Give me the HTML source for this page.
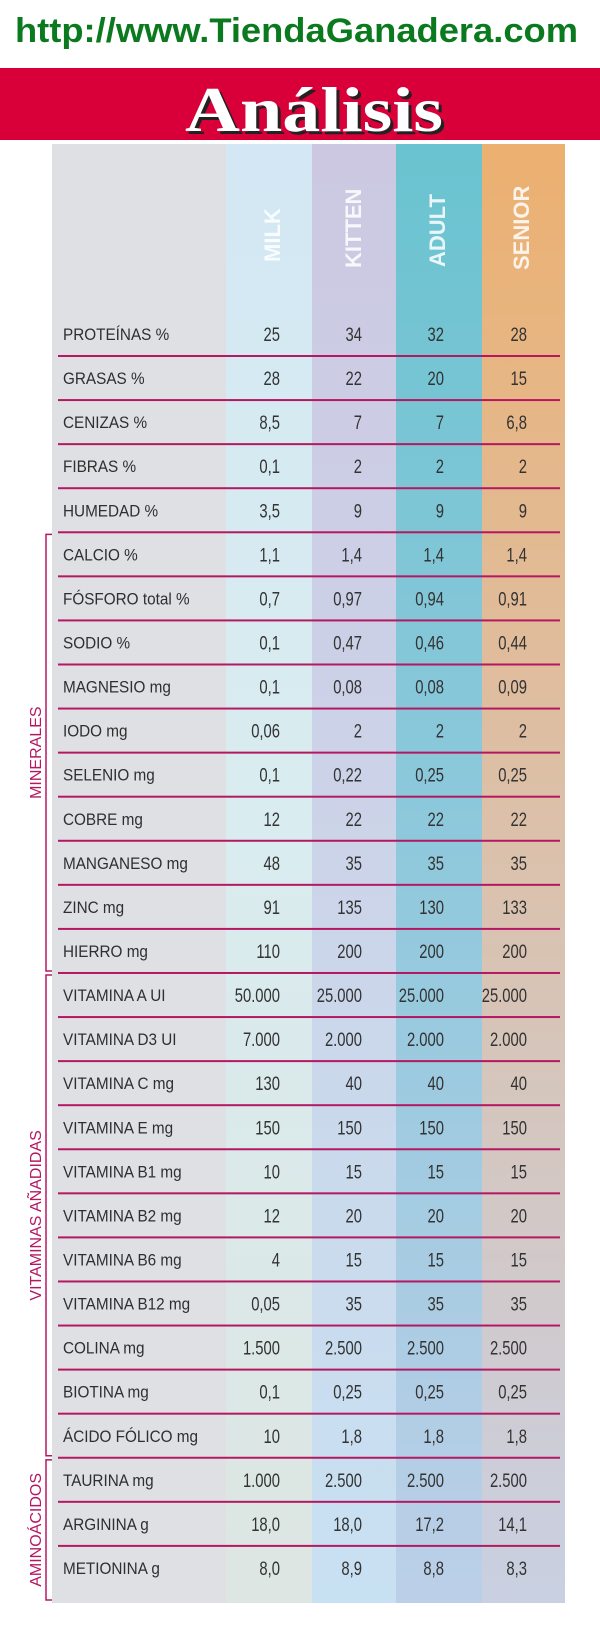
<!DOCTYPE html>
<html><head><meta charset="utf-8"><style>
html,body{margin:0;padding:0;background:#fff;width:600px;height:1632px;overflow:hidden}
svg{display:block}
</style></head><body>
<svg id="chart" width="600" height="1632" viewBox="0 0 600 1632" xmlns="http://www.w3.org/2000/svg">
<defs>
<linearGradient id="gMilk" x1="0" y1="0" x2="0" y2="1"><stop offset="0" stop-color="#d3e8f4"/><stop offset="0.45" stop-color="#d9ecf0"/><stop offset="1" stop-color="#dde6e2"/></linearGradient>
<linearGradient id="gKitten" x1="0" y1="0" x2="0" y2="1"><stop offset="0" stop-color="#ccc8e2"/><stop offset="0.45" stop-color="#ccd3e8"/><stop offset="1" stop-color="#c8e1f2"/></linearGradient>
<linearGradient id="gAdult" x1="0" y1="0" x2="0" y2="1"><stop offset="0" stop-color="#6ac3d0"/><stop offset="0.45" stop-color="#8cc8db"/><stop offset="1" stop-color="#bccfe8"/></linearGradient>
<linearGradient id="gSenior" x1="0" y1="0" x2="0" y2="1"><stop offset="0" stop-color="#ecb070"/><stop offset="0.45" stop-color="#dcc0a8"/><stop offset="1" stop-color="#c9d0e2"/></linearGradient>
</defs>
<text x="15" y="42" font-family="Liberation Sans, sans-serif" font-weight="bold" font-size="34" fill="#0b7a1f" textLength="563" lengthAdjust="spacingAndGlyphs">http://www.TiendaGanadera.com</text>
<rect x="0" y="68" width="600" height="72" fill="#d9003a"/>
<text x="317" y="134" text-anchor="middle" font-family="Liberation Serif, serif" font-weight="bold" font-size="64" fill="#222" textLength="258" lengthAdjust="spacingAndGlyphs">Análisis</text>
<text x="314" y="131" text-anchor="middle" font-family="Liberation Serif, serif" font-weight="bold" font-size="64" fill="#fff" textLength="258" lengthAdjust="spacingAndGlyphs">Análisis</text>
<g id="tbl"></g>
</svg>
<script>
const columns = ["MILK","KITTEN","ADULT","SENIOR"];
const rowLabels = ["PROTEÍNAS %","GRASAS %","CENIZAS %","FIBRAS %","HUMEDAD %","CALCIO %","FÓSFORO total %","SODIO %","MAGNESIO mg","IODO mg","SELENIO mg","COBRE mg","MANGANESO mg","ZINC mg","HIERRO mg","VITAMINA A UI","VITAMINA D3 UI","VITAMINA C mg","VITAMINA E mg","VITAMINA B1 mg","VITAMINA B2 mg","VITAMINA B6 mg","VITAMINA B12 mg","COLINA mg","BIOTINA mg","ÁCIDO FÓLICO mg","TAURINA mg","ARGININA g","METIONINA g"];
const milkValues = ["25","28","8,5","0,1","3,5","1,1","0,7","0,1","0,1","0,06","0,1","12","48","91","110","50.000","7.000","130","150","10","12","4","0,05","1.500","0,1","10","1.000","18,0","8,0"];
const kittenValues = ["34","22","7","2","9","1,4","0,97","0,47","0,08","2","0,22","22","35","135","200","25.000","2.000","40","150","15","20","15","35","2.500","0,25","1,8","2.500","18,0","8,9"];
const adultValues = ["32","20","7","2","9","1,4","0,94","0,46","0,08","2","0,25","22","35","130","200","25.000","2.000","40","150","15","20","15","35","2.500","0,25","1,8","2.500","17,2","8,8"];
const seniorValues = ["28","15","6,8","2","9","1,4","0,91","0,44","0,09","2","0,25","22","35","133","200","25.000","2.000","40","150","15","20","15","35","2.500","0,25","1,8","2.500","14,1","8,3"];
const groupNames = ["MINERALES","VITAMINAS AÑADIDAS","AMINOÁCIDOS"];
const groupStart = [5,15,26];
const groupEnd = [14,25,28];

const NS="http://www.w3.org/2000/svg";
const g=document.getElementById('tbl');
function mk(t,a,p){const e=document.createElementNS(NS,t);for(const k in a)e.setAttribute(k,a[k]);(p||g).appendChild(e);return e;}
const top0=144,bottom=1603,row0=334,rowH=44.07;
const rowY=i=>row0+i*rowH;
const colX=[226,312,396,482,565];
const colRight=[280,362,444,527];
const colHeadX=[272,353,437,521];
const headEnd=[262,268,267,270];
const fills=["url(#gMilk)","url(#gKitten)","url(#gAdult)","url(#gSenior)"];
const series=[milkValues,kittenValues,adultValues,seniorValues];

let r=mk('rect',{x:52,y:top0,width:174,height:bottom-top0,fill:'#dfe0e4'});


columns.forEach((c,j)=>{
  const b=mk('rect',{x:colX[j],y:top0,width:colX[j+1]-colX[j],height:bottom-top0,fill:fills[j]});
  
  
  const t=mk('text',{x:0,y:0,transform:`translate(${colHeadX[j]+8},${headEnd[j]}) rotate(-90)`,'font-family':'Liberation Sans, sans-serif','font-weight':'bold','font-size':'22',fill:'#fff','fill-opacity':'0.85'});
  t.textContent=c;
  
  
});
for(let i=0;i<rowLabels.length-1;i++){
  const l=mk('rect',{x:58,y:rowY(i)+21,width:502,height:2,fill:'#b51862'});
  
  
}
rowLabels.forEach((lab,i)=>{
  const y=rowY(i)+6;
  const t=mk('text',{transform:`translate(63,${y}) scale(0.9,1)`,'font-family':'Liberation Sans, sans-serif','font-size':'17',fill:'#2f2f2f'});
  t.textContent=lab;
  
  
  series.forEach((s,j)=>{
    const v=mk('text',{transform:`translate(${colRight[j]},${y+1}) scale(0.78,1)`,'text-anchor':'end','font-family':'Liberation Sans, sans-serif','font-size':'19',fill:'#333'});
    v.textContent=s[i];
    
    
  });
});
groupNames.forEach((n,k)=>{
  const y1=rowY(groupStart[k])-22+2, y2=rowY(groupEnd[k])+(groupEnd[k]===28?34:22)-2;
  const p=mk('path',{d:`M52 ${y1} H46 V${y2} H52`,fill:'none',stroke:'#b51862','stroke-width':'1.5'});
  
  
  const cy=(y1+y2)/2;
  const t=mk('text',{transform:`translate(41,${cy}) rotate(-90)`,'text-anchor':'middle','font-family':'Liberation Sans, sans-serif','font-size':'16',fill:'#b51862'});
  t.textContent=n;
  
  
});
</script>
</body></html>
